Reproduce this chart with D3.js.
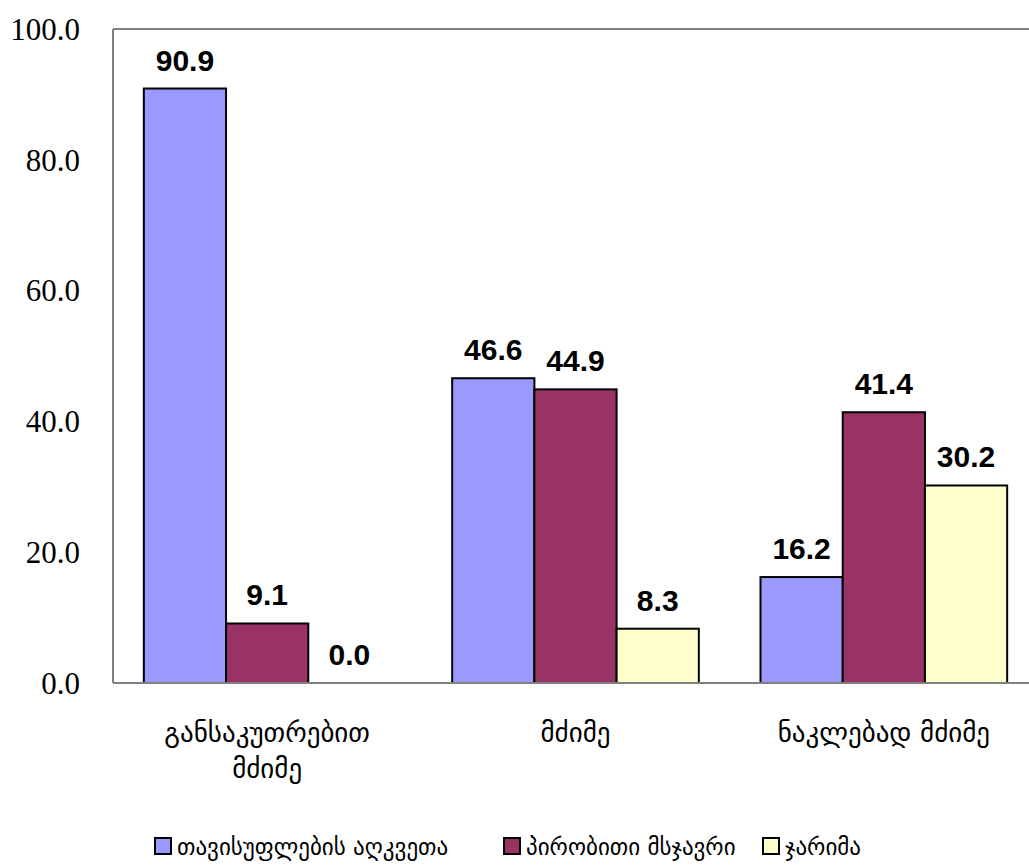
<!DOCTYPE html>
<html>
<head>
<meta charset="utf-8">
<script src="https://cdn.jsdelivr.net/npm/d3@7"></script>
<style>
  body { margin: 0; background: #fff; }
  svg { display: block; }
  .tick-label { font-family: "Liberation Serif", "DejaVu Serif", serif; font-size: 31px; fill: #000; }
  .value-label { font-family: "Liberation Sans", Arial, sans-serif; font-size: 30px; font-weight: bold; fill: #000; }
  .cat-label { font-family: "DejaVu Sans", "Noto Sans", sans-serif; font-size: 27px; fill: #000; }
  .legend-label { font-family: "DejaVu Sans", "Noto Sans", sans-serif; font-size: 23px; fill: #000; }
</style>
</head>
<body>
<div id="chart"></div>
<script>
// categories (multi-line labels) and series values
const categories = ["განსაკუთრებით მძიმე", "მძიმე", "ნაკლებად მძიმე"];
const categoryLines = [["განსაკუთრებით", "მძიმე"], ["მძიმე"], ["ნაკლებად მძიმე"]];
const seriesNames = ["თავისუფლების აღკვეთა", "პირობითი მსჯავრი", "ჯარიმა"];
const seriesColors = ["#9999FF", "#993366", "#FFFFCC"];
const freedomValues = [90.9, 46.6, 16.2];
const probationValues = [9.1, 44.9, 41.4];
const fineValues = [0.0, 8.3, 30.2];
const yTicks = [0, 20, 40, 60, 80, 100];

const width = 1029, height = 867;
const plot = { left: 113, top: 29, right: 1038, bottom: 683 };

const svg = d3.select("#chart").append("svg")
  .attr("width", width).attr("height", height);

const x0 = d3.scaleBand()
  .domain(categories)
  .range([plot.left, plot.right])
  .paddingInner(0.2)
  .paddingOuter(0.1);

const x1 = d3.scaleBand()
  .domain(seriesNames)
  .range([0, x0.bandwidth()]);

const y = d3.scaleLinear().domain([0, 100]).range([plot.bottom, plot.top]);

const allSeries = [freedomValues, probationValues, fineValues];
const rows = [];
categories.forEach((c, ci) => {
  seriesNames.forEach((s, si) => {
    rows.push({ cat: c, series: s, si, value: allSeries[si][ci] });
  });
});

// plot frame: top grey line
svg.append("line")
  .attr("x1", plot.left).attr("x2", width)
  .attr("y1", plot.top).attr("y2", plot.top)
  .attr("stroke", "#808080").attr("stroke-width", 2);

// y tick labels
svg.selectAll(".tick-label")
  .data(yTicks)
  .join("text")
  .attr("class", "tick-label")
  .attr("x", 80)
  .attr("y", (d) => y(d))
  .attr("dy", "0.35em")
  .attr("text-anchor", "end")
  .text((d) => d3.format(".1f")(d));

// bars
svg.selectAll(".bar")
  .data(rows.filter((d) => d.value > 0))
  .join("rect")
  .attr("class", "bar")
  .attr("x", (d) => x0(d.cat) + x1(d.series))
  .attr("y", (d) => y(d.value))
  .attr("width", x1.bandwidth())
  .attr("height", (d) => y(0) - y(d.value))
  .attr("fill", (d) => seriesColors[d.si])
  .attr("stroke", "#000")
  .attr("stroke-width", 2);

// axis lines (drawn over bars)
svg.append("line")
  .attr("x1", plot.left).attr("x2", plot.left)
  .attr("y1", plot.top).attr("y2", plot.bottom)
  .attr("stroke", "#808080").attr("stroke-width", 2);
svg.append("line")
  .attr("x1", plot.left).attr("x2", width)
  .attr("y1", plot.bottom).attr("y2", plot.bottom)
  .attr("stroke", "#808080").attr("stroke-width", 2);

// value labels
svg.selectAll(".value-label")
  .data(rows)
  .join("text")
  .attr("class", "value-label")
  .attr("x", (d) => x0(d.cat) + x1(d.series) + x1.bandwidth() / 2)
  .attr("y", (d) => y(d.value) - 18)
  .attr("text-anchor", "middle")
  .text((d) => d3.format(".1f")(d.value));

// category labels
const catG = svg.selectAll(".cat-label")
  .data(categories)
  .join("text")
  .attr("class", "cat-label")
  .attr("text-anchor", "middle")
  .attr("x", (d) => x0(d) + x0.bandwidth() / 2)
  .attr("y", 742);
catG.selectAll("tspan")
  .data((d, i) => categoryLines[i])
  .join("tspan")
  .attr("x", function () { return d3.select(this.parentNode).attr("x"); })
  .attr("dy", (d, i) => (i === 0 ? 0 : 36))
  .text((d) => d);

// legend
const legendX = [155, 504, 763];
const legend = svg.selectAll(".legend-item")
  .data(seriesNames)
  .join("g")
  .attr("class", "legend-item")
  .attr("transform", (d, i) => `translate(${legendX[i]}, 838)`);
legend.append("rect")
  .attr("width", 16).attr("height", 16)
  .attr("fill", (d, i) => seriesColors[i])
  .attr("stroke", "#000").attr("stroke-width", 2);
legend.append("text")
  .attr("class", "legend-label")
  .attr("x", 22)
  .attr("y", 17)
  .text((d) => d);
</script>
</body>
</html>
